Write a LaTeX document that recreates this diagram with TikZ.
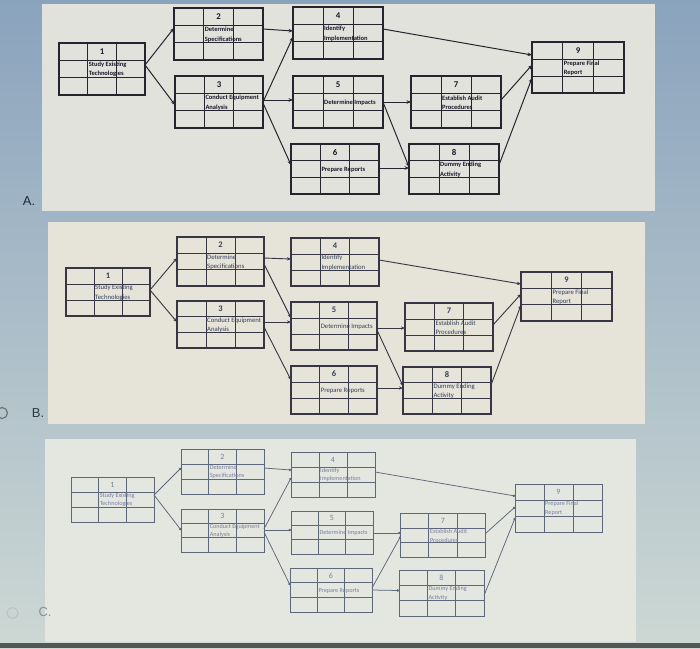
\documentclass[tikz,border=0pt]{standalone}
\usepackage{fontspec}
\setmainfont{Carlito}
\newfontfamily\labfont{Liberation Sans}
\usetikzlibrary{arrows.meta}

\definecolor{bgA}{HTML}{8AA3BD}
\definecolor{bgB}{HTML}{B3C2CC}
\definecolor{bgC}{HTML}{CDD8D4}
\definecolor{panelA}{HTML}{E2E2DD}
\definecolor{panelB}{HTML}{E6E3D8}
\definecolor{panelC}{HTML}{E4E6E0}
\definecolor{aline}{HTML}{25252F}
\definecolor{atext}{HTML}{18182A}
\definecolor{bline}{HTML}{363644}
\definecolor{btext}{HTML}{34405A}
\definecolor{cline}{HTML}{5E667A}
\definecolor{ctext}{HTML}{7880A0}
\definecolor{labA}{HTML}{1C2840}
\definecolor{labB}{HTML}{303848}
\definecolor{labC}{HTML}{8A9098}

\tikzset{
  abox/.style={draw=aline, line width=1.5pt, inner sep=0pt, outer sep=0pt},
  agrid/.style={draw=aline, line width=0.95pt},
  anum/.style={inner sep=0pt, text=atext, font=\fontsize{8.8}{9}\selectfont\bfseries},
  atxt/.style={inner sep=0pt, text=atext, align=left, font=\fontsize{6.5}{9.5}\selectfont\bfseries},
  aarr/.style={draw=aline, line width=1pt, -{Stealth[length=4.5pt,width=3.6pt]}},
  bbox/.style={draw=bline, line width=1.2pt, inner sep=0pt, outer sep=0pt},
  bgrid/.style={draw=bline, line width=0.85pt},
  bnum/.style={inner sep=0pt, text=btext, font=\fontsize{8.5}{9}\selectfont\bfseries},
  btxt/.style={inner sep=0pt, text=btext, align=left, font=\fontsize{6.7}{9.5}\selectfont},
  barr/.style={draw=bline, line width=0.9pt, -{Stealth[length=4pt,width=3.2pt]}},
  cbox/.style={draw=cline, line width=1pt, inner sep=0pt, outer sep=0pt},
  cgrid/.style={draw=cline, line width=0.75pt},
  cnum/.style={inner sep=0pt, text=ctext, font=\fontsize{8}{9}\selectfont},
  ctxt/.style={inner sep=0pt, text=ctext, align=left, font=\fontsize{6.2}{8.5}\selectfont},
  carr/.style={draw=cline, line width=0.75pt, -{Circle[length=2.4pt]}},
  lab/.style={inner sep=0pt, font=\labfont\fontsize{13}{14}\selectfont},
  radio/.style={circle, inner sep=0pt, minimum size=11pt, line width=1.2pt},
}

% #1 name, #2 cx, #3 cy, #4 w, #5 h, #6 number, #7 text, #8 style prefix
\newcommand\actbox[8]{%
  \node[#8box, minimum width=#4pt, minimum height=#5pt] (#1) at (#2,#3) {};
  \draw[#8grid] ({#2-#4/6},{#3-#5/2}) -- ({#2-#4/6},{#3+#5/2});
  \draw[#8grid] ({#2+#4/6},{#3-#5/2}) -- ({#2+#4/6},{#3+#5/2});
  \draw[#8grid] ({#2-#4/2},{#3-#5/6}) -- ({#2+#4/2},{#3-#5/6});
  \draw[#8grid] ({#2-#4/2},{#3+#5/6}) -- ({#2+#4/2},{#3+#5/6});
  \node[#8num] (#1n) at (#2,{#3-#5/3}) {#6};
  \node[#8txt, anchor=west] (#1t) at ({#2-#4/6+1},{#3+0.5}) {#7};
}

\begin{document}
\begin{tikzpicture}[x=1pt,y=-1pt]
\useasboundingbox (0,0) rectangle (700,648);
\shade[top color=bgA, middle color=bgB, bottom color=bgC] (0,0) rectangle (700,648);
\fill[panelA] (42,4) rectangle (655,211);
\fill[panelB] (48,222) rectangle (645,424);
\fill[panelC] (45,439) rectangle (636,642);
\fill[black!60!bgC] (0,643) rectangle (700,648);

% ---------- Diagram A ----------
\actbox{a1}{102}{69}{86}{52}{1}{Study Existing\\Technologies}{a}
\actbox{a2}{218.5}{34}{89}{52}{2}{Determine\\Specifications}{a}
\actbox{a4}{338}{33}{90}{52}{4}{Identify\\Implementation}{a}
\actbox{a3}{219}{102}{88}{52}{3}{Conduct Equipment\\Analysis}{a}
\actbox{a5}{338}{102}{90}{52}{5}{Determine Impacts}{a}
\actbox{a7}{456}{102}{90}{52}{7}{Establish Audit\\Procedures}{a}
\actbox{a6}{335}{169}{88}{50}{6}{Prepare Reports}{a}
\actbox{a8}{454}{169}{90}{50}{8}{Dummy Ending\\Activity}{a}
\actbox{a9}{578}{67.5}{92}{51}{9}{Prepare Final\\Report}{a}

\draw[aarr] ([yshift=4pt]a1.east) -- ([yshift=6pt]a2.west);
\draw[aarr] ([yshift=4pt]a1.east) -- ([yshift=-3pt]a3.west);
\draw[aarr] ([yshift=5pt]a2.east) -- ([yshift=2pt]a4.west);
\draw[aarr] (a3.east) -- ([yshift=-4pt]a4.west);
\draw[aarr] ([yshift=2pt]a3.east) -- ([yshift=2pt]a5.west);
\draw[aarr] ([yshift=-1pt]a3.east) -- ([yshift=4pt]a6.west);
\draw[aarr] ([yshift=4pt]a4.east) -- ([yshift=12.5pt]a9.west);
\draw[aarr] (a5.east) -- (a7.west);
\draw[aarr] (a5.east) -- ([yshift=2pt]a8.west);
\draw[aarr] ([yshift=1pt]a6.east) -- ([yshift=1pt]a8.west);
\draw[aarr] ([yshift=2pt]a7.east) -- ([yshift=2.5pt]a9.west);
\draw[aarr] ([yshift=4pt]a8.east) -- ([yshift=-10.5pt]a9.west);

% ---------- Diagram B ----------
\actbox{b1}{108}{292}{84}{48}{1}{Study Existing\\Technologies}{b}
\actbox{b2}{220.5}{261.5}{87}{49}{2}{Determine\\Specifications}{b}
\actbox{b4}{335}{262}{88}{48}{4}{Identify\\Implementation}{b}
\actbox{b3}{220.5}{324.5}{87}{47}{3}{Conduct Equipment\\Analysis}{b}
\actbox{b5}{334}{326}{86}{48}{5}{Determine Impacts}{b}
\actbox{b7}{449}{327}{88}{48}{7}{Establish Audit\\Procedures}{b}
\actbox{b6}{334}{390}{86}{48}{6}{Prepare Reports}{b}
\actbox{b8}{447}{390.5}{88}{47}{8}{Dummy Ending\\Activity}{b}
\actbox{b9}{566.5}{296.5}{91}{49}{9}{Prepare Final\\Report}{b}

\draw[barr] ([yshift=2pt]b1.east) -- ([yshift=3.5pt]b2.west);
\draw[barr] ([yshift=2pt]b1.east) -- ([yshift=2.5pt]b3.west);
\draw[barr] ([yshift=3.5pt]b2.east) -- ([yshift=3pt]b4.west);
\draw[barr] ([yshift=-2.5pt]b2.east) -- ([yshift=8pt]b5.west);
\draw[barr] ([yshift=2.5pt]b3.east) -- ([yshift=4pt]b5.west);
\draw[barr] ([yshift=-2.5pt]b3.east) -- ([yshift=10pt]b6.west);
\draw[barr] ([yshift=2pt]b4.east) -- ([yshift=12.5pt]b9.west);
\draw[barr] ([yshift=-2pt]b5.east) -- ([yshift=-1pt]b7.west);
\draw[barr] ([yshift=-4pt]b5.east) -- ([yshift=4.5pt]b8.west);
\draw[barr] ([yshift=2pt]b6.east) -- ([yshift=2.5pt]b8.west);
\draw[barr] ([yshift=2pt]b7.east) -- ([yshift=2.5pt]b9.west);
\draw[barr] ([yshift=5.5pt]b8.east) -- ([yshift=-8.5pt]b9.west);

% ---------- Diagram C ----------
\actbox{c1}{112.5}{499.5}{83}{45}{1}{Study Existing\\Technologies}{c}
\actbox{c2}{222.5}{471.5}{83}{45}{2}{Determine\\Specifications}{c}
\actbox{c4}{333}{474.5}{84}{45}{4}{Identify\\Implementation}{c}
\actbox{c3}{222.5}{530.5}{83}{43}{3}{Conduct Equipment\\Analysis}{c}
\actbox{c5}{332}{532.5}{82}{43}{5}{Determine Impacts}{c}
\actbox{c7}{443}{535.5}{85}{44}{7}{Establish Audit\\Procedures}{c}
\actbox{c6}{331}{590}{82}{44}{6}{Prepare Reports}{c}
\actbox{c8}{441.5}{593}{85}{46}{8}{Dummy Ending\\Activity}{c}
\actbox{c9}{558.5}{508}{87}{48}{9}{Prepare Final\\Report}{c}

\draw[carr] ([yshift=4.5pt]c1.east) -- ([yshift=3.5pt]c2.west);
\draw[carr] ([yshift=4.5pt]c1.east) -- ([yshift=0.5pt]c3.west);
\draw[carr] ([yshift=3.5pt]c2.east) -- ([yshift=4.5pt]c4.west);
\draw[carr] ([yshift=1.5pt]c3.east) -- ([yshift=-3.5pt]c4.west);
\draw[carr] ([yshift=0.5pt]c3.east) -- ([yshift=2.5pt]c5.west);
\draw[carr] ([yshift=-1.5pt]c3.east) -- ([yshift=5pt]c6.west);
\draw[carr] ([yshift=2.5pt]c4.east) -- ([yshift=12pt]c9.west);
\draw[carr] ([yshift=-0.5pt]c5.east) -- ([yshift=2.5pt]c7.west);
\draw[carr] ([yshift=2pt]c6.east) -- ([yshift=-1pt]c7.west);
\draw[carr] (c6.east) -- ([yshift=2.5pt]c8.west);
\draw[carr] ([yshift=2pt]c7.east) -- ([yshift=1pt]c9.west);
\draw[carr] ([yshift=-2.5pt]c8.east) -- ([yshift=-10pt]c9.west);

% ---------- option labels ----------
\node[lab, text=labA] (labelA) at (29,201) {A.};
\node[radio, draw=black!55] (radioB) at (2,413) {};
\node[lab, text=labB] (labelB) at (38,413) {B.};
\node[radio, draw=black!25, line width=1pt] (radioC) at (12.5,613) {};
\node[lab, text=labC] (labelC) at (45,612) {C.};
\end{tikzpicture}
\end{document}
